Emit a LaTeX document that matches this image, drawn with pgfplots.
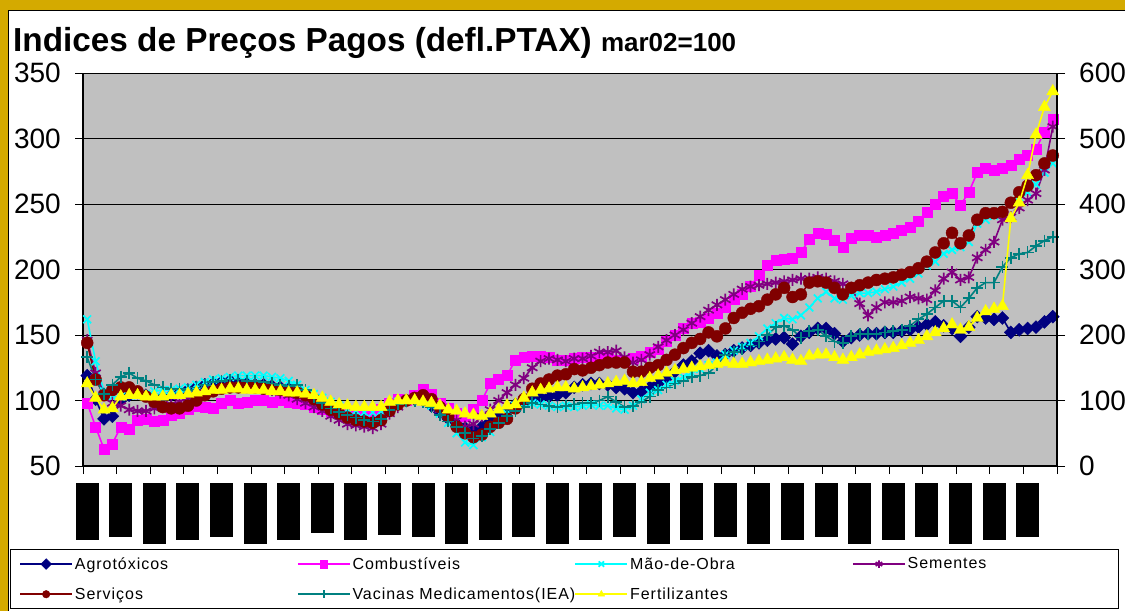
\documentclass[border=0pt]{standalone}
\usepackage{fontspec}
\setmainfont{Liberation Sans}
\usepackage{pgfplots}
\usepackage{pgfplotstable}
\pgfplotsset{compat=1.18}

\definecolor{goldbg}{RGB}{212,170,0}
\definecolor{plotgray}{RGB}{192,192,192}
\definecolor{agro}{RGB}{0,0,128}
\definecolor{comb}{RGB}{255,0,255}
\definecolor{maob}{RGB}{0,255,255}
\definecolor{seme}{RGB}{128,0,128}
\definecolor{serv}{RGB}{128,0,0}
\definecolor{vaci}{RGB}{0,128,128}
\definecolor{fert}{RGB}{255,255,0}

\newcommand{\blk}[1]{\rule{23pt}{#1pt}}

% i = month index, a..v on the left axis, f (Fertilizantes) on the right axis
\pgfplotstableread{
i a c m s r v f
0 119 98 162 146 144 133 126
1 101 80 130 121 116 116 104
2 86 63 107 105 104 105 86
3 88 67 103 98 108 112 88
4 100 80 103 96 110 118 106
5 104 78 104 93 110 121 108
6 106 85 104 92 107 117 108
7 104 86 105 92 103 115 106
8 102 84 107 94 99 112 106
9 103 85 108 95 95 110 106
10 104 89 108 97 94 109 108
11 106 90 109 99 94 109 108
12 108 93 110 102 96 108 110
13 110 96 112 104 100 110 112
14 112 95 114 106 104 112 114
15 113 94 116 108 107 114 116
16 114 98 117 109 109 115 116
17 115 100 118 110 110 116 118
18 114 98 119 111 110 116 118
19 113 99 119 110 111 115 116
20 112 100 119 110 110 115 116
21 112 100 119 109 109 114 116
22 111 99 118 108 109 113 114
23 110 100 117 106 108 112 114
24 109 99 115 104 107 111 112
25 107 98 112 101 106 112 112
26 104 97 108 98 104 108 110
27 101 95 105 95 101 103 108
28 98 93 102 92 97 98 104
29 95 92 99 88 93 94 98
30 93 91 96 85 90 91 94
31 92 91 93 82 87 89 92
32 91 90 92 81 85 87 90
33 90 90 91 80 84 85 90
34 90 91 91 79 83 84 90
35 92 93 92 82 85 86 90
36 96 98 96 90 92 93 98
37 99 101 99 95 97 97 100
38 100 100 100 100 100 100 100
39 101 104 101 101 102 100 100
40 100 109 100 102 104 99 98
41 96 105 96 98 101 95 96
42 91 98 90 93 95 89 92
43 86 94 83 88 88 84 86
44 82 90 75 85 80 80 84
45 79 88 68 80 75 75 80
46 78 93 66 82 72 71 78
47 80 100 72 88 74 73 76
48 84 113 76 93 80 78 80
49 88 116 82 100 83 83 86
50 93 119 90 106 86 88 92
51 97 131 96 112 94 92 94
52 99 133 98 117 101 95 104
53 101 134 98 125 109 98 112
54 102 134 97 130 113 97 116
55 103 133 96 132 116 96 118
56 104 131 95 131 119 95 120
57 106 131 96 130 120 96 120
58 110 132 95 132 124 97 118
59 112 133 96 132 123 98 120
60 113 133 97 134 125 98 122
61 113 132 96 137 127 100 124
62 112 133 96 137 129 103 126
63 110 131 94 138 129 99 128
64 109 130 93 133 129 95 130
65 106 132 96 129 122 96 126
66 107 134 101 131 122 99 128
67 110 137 106 135 125 103 134
68 113 139 108 141 127 108 138
69 117 145 112 146 131 110 142
70 122 150 115 150 135 113 146
71 127 155 118 154 140 115 148
72 130 159 121 159 144 118 150
73 136 160 124 164 147 119 152
74 138 163 127 169 152 121 154
75 134 167 129 173 149 127 156
76 135 171 135 177 155 135 158
77 138 177 138 181 163 137 156
78 140 181 141 185 167 139 156
79 142 187 144 187 170 142 158
80 144 196 149 188 172 145 160
81 146 203 155 189 177 150 162
82 147 207 159 190 181 156 164
83 148 208 163 191 186 157 166
84 143 209 162 192 179 154 162
85 149 213 165 193 181 148 160
86 152 223 171 193 190 153 168
87 155 228 178 194 191 154 170
88 155 227 183 193 190 149 170
89 151 222 178 191 186 145 166
90 145 217 177 189 181 144 162
91 148 224 180 186 186 149 166
92 150 226 182 174 188 151 170
93 151 226 182 165 190 151 174
94 151 225 183 171 192 151 176
95 152 226 185 175 193 152 178
96 152 228 187 175 194 153 180
97 153 230 190 176 196 154 184
98 154 232 193 179 198 157 188
99 156 237 197 178 201 162 192
100 158 244 203 177 206 166 198
101 160 250 206 184 213 171 204
102 157 256 212 193 220 176 210
103 155 258 215 198 228 176 216
104 149 249 217 192 220 171 208
105 156 259 221 194 226 178 212
106 164 274 235 209 238 186 226
107 163 277 238 215 243 190 236
108 162 276 241 221 243 190 240
109 163 277 244 238 244 202 244
110 152 280 251 240 251 209 378
111 154 284 255 247 259 212 402
112 155 287 259 253 264 213 444
113 156 292 265 258 272 218 506
114 160 305 274 276 281 222 548
115 164 315 281 309 287 225 572
}\indices

\pgfplotsset{
  idx axis/.style={
    scale only axis, width=974pt, height=393pt,
    at={(83pt,-466pt)}, anchor=south west,
    xmin=-0.5, xmax=115.5,
    tick align=outside,
    major tick length=8pt,
    tick style={black, line width=0.8pt},
    ticklabel style={font=\fontsize{28}{32}\selectfont},
    /pgf/number format/assume math mode=true,
  },
  ser/.style={line width=1.6pt, mark options={solid}},
}

\begin{document}
\begin{tikzpicture}
\fill[goldbg] (0pt,0pt) rectangle (1125pt,-611pt);
\fill[white] (8pt,-10pt) rectangle (1125pt,-611pt);
\draw[line width=1pt] (1125pt,-10pt) -- (8pt,-10pt) -- (8pt,-611pt);
\node[anchor=base west, inner sep=0pt, font=\bfseries\fontsize{33.3}{38}\selectfont]
  at (13pt,-51pt) {Indices de Preços Pagos (defl.PTAX) {\fontsize{26}{30}\selectfont mar02=100}};

\begin{axis}[idx axis,
  ymin=50, ymax=350, ytick={50,100,...,350},
  axis x line*=bottom, axis y line*=left,
  axis line style={black, line width=1.2pt},
  axis background/.style={fill=plotgray},
  ymajorgrids, grid style={black, line width=0.8pt},
  xtick={-0.5,3.5,...,115.5},
  xticklabels={\blk{57},\blk{54},\blk{61},\blk{57},\blk{54},\blk{61},\blk{57},\blk{50},
    \blk{57},\blk{52},\blk{54},\blk{61},\blk{57},\blk{54},\blk{61},\blk{57},\blk{54},
    \blk{61},\blk{57},\blk{54},\blk{61},\blk{57},\blk{54},\blk{61},\blk{57},\blk{54},
    \blk{61},\blk{57},\blk{54},{}},
  xticklabel style={anchor=north, inner sep=0pt, xshift=4.2pt, yshift=-9pt},
  yticklabel style={anchor=east, inner sep=0pt, xshift=-14pt},
  legend columns=4,
  legend cell align=left,
  legend image code/.code={\draw[mark repeat=2,mark phase=2,#1] plot coordinates {(0pt,0pt)(26pt,0pt)(52pt,0pt)};},
  legend image post style={mark size=3.8pt},
  legend style={at={(-0.075,-0.2112)}, anchor=north west, draw=black, line width=0.8pt,
    fill=white, font=\fontsize{16}{19}\selectfont\addfontfeature{LetterSpace=6},
    inner xsep=9pt, inner ysep=6pt, row sep=13pt},
]
\addplot[ser, color=agro, mark=square*, mark size=4.6pt, mark options={rotate=45, fill=agro, line width=0.4pt}] table[x=i, y=a]{\indices};
\addlegendentry{\makebox[220pt][l]{Agrotóxicos}}
\addplot[ser, color=comb, mark=square*, mark size=5pt, mark options={fill=comb, line width=0.4pt}] table[x=i, y=c]{\indices};
\addlegendentry{\makebox[220pt][l]{Combustíveis}}
\addplot[ser, color=maob, mark=x, mark size=5.5pt, mark options={line width=1.7pt}] table[x=i, y=m]{\indices};
\addlegendentry{\makebox[220pt][l]{Mão-de-Obra}}
\addplot[ser, color=seme, mark=asterisk, mark size=6pt, mark options={line width=1.7pt}] table[x=i, y=s]{\indices};
\addlegendentry{\makebox[200pt][l]{Sementes}}
\addplot[ser, color=serv, mark=*, mark size=6pt, mark options={fill=serv, line width=0.4pt}] table[x=i, y=r]{\indices};
\addlegendentry{\makebox[220pt][l]{Serviços}}
\addplot[ser, color=vaci, mark=+, mark size=6pt, mark options={line width=1.7pt}] table[x=i, y=v]{\indices};
\addlegendentry{\makebox[220pt][l]{Vacinas Medicamentos(IEA)}}
\addlegendimage{ser, color=fert, mark=triangle*, mark options={fill=fert, line width=0.4pt}}
\addlegendentry{\makebox[220pt][l]{Fertilizantes}}
\end{axis}

\begin{axis}[idx axis,
  ymin=0, ymax=600, ytick={0,100,...,600},
  axis x line=none, axis y line*=right,
  axis line style={black, line width=1.2pt},
  yticklabel style={anchor=west, inner sep=0pt, xshift=14pt},
]
\addplot[ser, color=fert, mark=triangle*, mark size=7pt, mark options={fill=fert, line width=0.4pt}] table[x=i, y=f]{\indices};
\end{axis}

\pgfresetboundingbox
\path[use as bounding box] (0pt,0pt) rectangle (1125pt,-611pt);
\end{tikzpicture}
\end{document}
